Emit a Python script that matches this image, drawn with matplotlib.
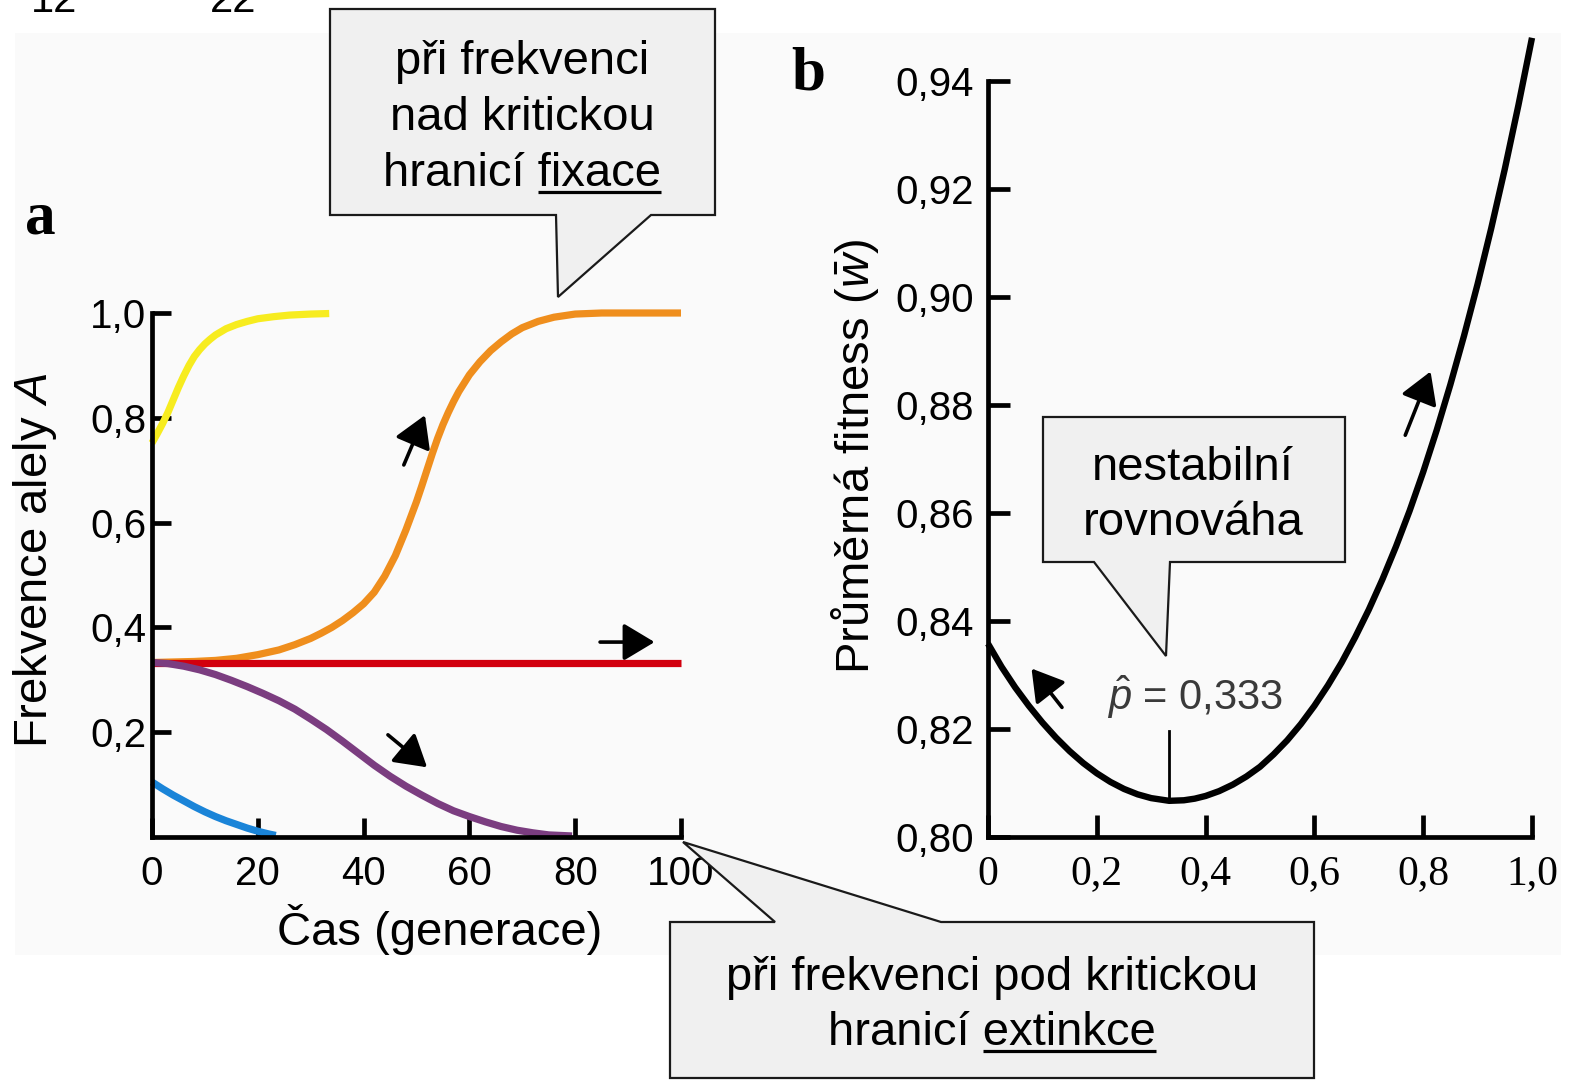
import matplotlib
matplotlib.use("Agg")
import matplotlib.pyplot as plt
from matplotlib.patches import Polygon, Rectangle

# ---------------- data ----------------
# panel a: allele frequency trajectories
yellow_t = [0, 1, 2, 3, 4, 5, 6, 7, 8, 9, 10, 11, 12, 14, 16, 18, 20, 23, 26, 30, 33.5]
yellow_p = [0.752, 0.770, 0.789, 0.810, 0.834, 0.858, 0.880, 0.900, 0.917, 0.930, 0.941, 0.950, 0.958,
            0.970, 0.978, 0.984, 0.989, 0.993, 0.996, 0.998, 0.999]

orange_t = [0, 4, 8, 12, 16, 20, 24, 27, 30, 32, 34, 36, 38, 40, 42, 44, 46, 48, 50, 51, 52, 53, 54, 55,
            56, 57, 58, 60, 62, 64, 66, 68, 70, 73, 76, 80, 85, 100]
orange_p = [0.333, 0.334, 0.335, 0.337, 0.341, 0.348, 0.357, 0.367, 0.379, 0.389, 0.400, 0.413, 0.428,
            0.445, 0.467, 0.498, 0.537, 0.586, 0.640, 0.670, 0.701, 0.732, 0.761, 0.787, 0.810, 0.831,
            0.850, 0.882, 0.907, 0.928, 0.945, 0.960, 0.972, 0.984, 0.992, 0.998, 1.0, 1.0]

red_t = [0, 100]
red_p = [0.333, 0.333]

purple_t = [0, 3, 6, 9, 12, 15, 18, 21, 24, 27, 30, 33, 36, 39, 42, 45, 48, 51, 54, 57, 60, 63, 66,
            69, 72, 75, 79.4]
purple_p = [0.333, 0.331, 0.326, 0.319, 0.310, 0.299, 0.287, 0.274, 0.260, 0.244, 0.225, 0.205, 0.183,
            0.160, 0.137, 0.116, 0.097, 0.080, 0.064, 0.050, 0.039, 0.029, 0.020, 0.013, 0.008, 0.004, 0.002]

blue_t = [0, 2, 4, 6, 8, 10, 12, 14, 16, 18, 20, 22, 23.4]
blue_p = [0.105, 0.092, 0.080, 0.069, 0.058, 0.048, 0.039, 0.031, 0.024, 0.017, 0.011, 0.006, 0.003]

a_xticks = [0, 20, 40, 60, 80, 100]
a_xlabels = ["0", "20", "40", "60", "80", "100"]
a_yticks = [0.2, 0.4, 0.6, 0.8, 1.0]
a_ylabels = ["0,2", "0,4", "0,6", "0,8", "1,0"]

# panel a arrows (tail -> head), data coords
a_arrows = [((47.6, 0.71), (51.6, 0.805)),
            ((84.7, 0.372), (95.0, 0.372)),
            ((44.6, 0.195), (52.0, 0.133))]

# panel b: mean fitness
b_p = [0, 0.025, 0.05, 0.075, 0.1, 0.125, 0.15, 0.175, 0.2, 0.225, 0.25, 0.275, 0.3, 0.333, 0.36, 0.38,
       0.4, 0.425, 0.45, 0.475, 0.5, 0.525, 0.55, 0.575, 0.6, 0.625, 0.65, 0.675, 0.7, 0.725, 0.75, 0.775,
       0.8, 0.825, 0.85, 0.875, 0.9, 0.925, 0.95, 0.975, 1.0]
b_w = [0.8358, 0.8315, 0.8277, 0.8243, 0.8212, 0.8184, 0.8159, 0.8137, 0.8118, 0.8102, 0.8089, 0.8079,
       0.8072, 0.8067, 0.8068, 0.8071, 0.8076, 0.8085, 0.8097, 0.8112, 0.8130, 0.8153, 0.8179, 0.8209,
       0.8243, 0.8281, 0.8323, 0.8370, 0.8421, 0.8477, 0.8538, 0.8604, 0.8676, 0.8754, 0.8838, 0.8928,
       0.9024, 0.9127, 0.9237, 0.9355, 0.9480]
p_hat = 0.333
p_hat_line = [0.8067, 0.8196]

b_xticks = [0, 0.2, 0.4, 0.6, 0.8, 1.0]
b_xlabels = ["0", "0,2", "0,4", "0,6", "0,8", "1,0"]
b_yticks = [0.80, 0.82, 0.84, 0.86, 0.88, 0.90, 0.92, 0.94]
b_ylabels = ["0,80", "0,82", "0,84", "0,86", "0,88", "0,90", "0,92", "0,94"]

b_arrows = [((0.136, 0.824), (0.080, 0.8312)),
            ((0.767, 0.8744), (0.8135, 0.8862))]

# ---------------- figure ----------------
W, H = 1571, 1082
fig = plt.figure(figsize=(W / 100, H / 100), dpi=100)
fig.patch.set_facecolor("white")

SANS = ["Liberation Sans", "DejaVu Sans"]
SERIF = ["Liberation Serif", "DejaVu Serif"]
NARROW = ["Liberation Sans Narrow", "Liberation Sans", "DejaVu Sans"]
plt.rcParams["mathtext.fontset"] = "custom"
plt.rcParams["mathtext.it"] = "Liberation Sans:italic"
plt.rcParams["mathtext.rm"] = "Liberation Sans"
plt.rcParams["mathtext.sf"] = "Liberation Sans"

# background layer (pixel coordinates)
ax_bg = fig.add_axes([0, 0, 1, 1], zorder=-5)
ax_bg.set_xlim(0, W)
ax_bg.set_ylim(H, 0)
ax_bg.axis("off")
ax_bg.add_patch(Rectangle((15, 33), 1546, 922, fc="#fafafa", ec="none"))

def px2fig(x0, y0, x1, y1):
    return [x0 / W, 1 - y1 / H, (x1 - x0) / W, (y1 - y0) / H]

LW_SP = 3.4
ARROW = dict(arrowstyle="-|>,head_length=0.6,head_width=0.36", color="black",
             lw=2.6, mutation_scale=32, shrinkA=0, shrinkB=0)

# ---------------- panel a ----------------
axa = fig.add_axes(px2fig(152, 313, 681, 837))
axa.patch.set_visible(False)
axa.set_xlim(0, 100)
axa.set_ylim(0, 1.0)
for s in ["top", "right"]:
    axa.spines[s].set_visible(False)
for s in ["left", "bottom"]:
    axa.spines[s].set_linewidth(LW_SP)
    axa.spines[s].set_capstyle("projecting")

line_kw = dict(lw=5.2, solid_capstyle="butt", solid_joinstyle="round", clip_on=False)
axa.plot(yellow_t, yellow_p, color="#f7ec1f", **line_kw)
axa.plot(orange_t, orange_p, color="#ef8e1d", **line_kw)
axa.plot(red_t, red_p, color="#d2000e", **line_kw)
axa.plot(purple_t, purple_p, color="#7b3d80", **line_kw)
axa.plot(blue_t, blue_p, color="#1a84d8", **line_kw)

for (t0, p0), (t1, p1) in a_arrows:
    axa.annotate("", xy=(t1, p1), xytext=(t0, p0), arrowprops=ARROW)

axa.set_xticks(a_xticks)
axa.set_xticklabels(a_xlabels, family=SANS, fontsize=29)
axa.set_yticks(a_yticks)
axa.set_yticklabels(a_ylabels, family=SANS, fontsize=29)
axa.tick_params(axis="both", direction="in", length=14, width=LW_SP)
axa.tick_params(axis="y", pad=4)
axa.tick_params(axis="x", pad=13)

# ---------------- panel b ----------------
axb = fig.add_axes(px2fig(988, 81, 1532, 837))
axb.patch.set_visible(False)
axb.set_xlim(0, 1.0)
axb.set_ylim(0.80, 0.94)
for s in ["top", "right"]:
    axb.spines[s].set_visible(False)
for s in ["left", "bottom"]:
    axb.spines[s].set_linewidth(LW_SP)
    axb.spines[s].set_capstyle("projecting")

axb.plot(b_p, b_w, color="black", lw=4.6, clip_on=False, solid_capstyle="butt", solid_joinstyle="round")
axb.plot([p_hat, p_hat], p_hat_line, color="black", lw=2.0)
axb.text(0.3805, 0.8259, r"$\hat{p}$ = 0,333", family=SANS, fontsize=30, color="#3a3a3a",
         ha="center", va="center")
for (x0, y0), (x1, y1) in b_arrows:
    axb.annotate("", xy=(x1, y1), xytext=(x0, y0), arrowprops=ARROW)

axb.set_xticks(b_xticks)
axb.set_xticklabels(b_xlabels, family=SERIF, fontsize=30)
axb.set_yticks(b_yticks)
axb.set_yticklabels(b_ylabels, family=SANS, fontsize=29)
axb.tick_params(axis="both", direction="in", length=16, width=LW_SP)
axb.tick_params(axis="y", pad=10)
axb.tick_params(axis="x", pad=13)

# ---------------- overlay (labels and callouts), pixel coordinates ----------------
ax_ov = fig.add_axes([0, 0, 1, 1], zorder=10)
ax_ov.set_xlim(0, W)
ax_ov.set_ylim(H, 0)
ax_ov.axis("off")
ax_ov.patch.set_visible(False)

# axis titles
ax_ov.text(440, 945, "Čas (generace)", family=SANS, fontsize=34, ha="center", va="baseline")
ax_ov.text(35, 560, "Frekvence alely $A$", family=SANS, fontsize=34, ha="center", va="center",
           rotation=90)
ax_ov.text(855, 457, r"Průměrná fitness ($\bar{w}$)", family=SANS, fontsize=34, ha="center",
           va="center", rotation=90)
ax_ov.text(1283, 948, "$p$", family=SERIF, fontsize=32, ha="center", va="baseline", zorder=0)

ax_ov.text(40, 218, "a", family=SERIF, fontweight="bold", fontsize=44, ha="center", va="center")
ax_ov.text(808, 75, "b", family=SERIF, fontweight="bold", fontsize=44, ha="center", va="center")
ax_ov.text(54, 12, "12", family=SANS, fontsize=30, ha="center", va="baseline")
ax_ov.text(233, 12, "22", family=SANS, fontsize=30, ha="center", va="baseline")

FILL = "#f0f0f0"
EDGE = "#1a1a1a"

def callout(box, tri_base, tip):
    x0, y0, x1, y1 = box
    bx0, bx1, by = tri_base
    if by >= y1:  # pointer at bottom
        pts = [(x0, y0), (x1, y0), (x1, y1), (bx1, y1), tip, (bx0, y1), (x0, y1)]
    else:  # pointer at top
        pts = [(x0, y0), (bx0, y0), tip, (bx1, y0), (x1, y0), (x1, y1), (x0, y1)]
    ax_ov.add_patch(Polygon(pts, closed=True, fc=FILL, ec=EDGE, lw=1.6, joinstyle="miter", zorder=2))

callout((330, 9, 715, 215), (556, 651, 215), (558, 297))
callout((1043, 417, 1345, 562), (1094, 1170, 562), (1166, 656))
callout((670, 922, 1314, 1078), (775, 941, 922), (683, 842))

renderer = fig.canvas.get_renderer()

def underlined_line(cx, baseline, prefix, word, fam, size):
    full = ax_ov.text(cx, baseline, prefix + word, family=fam, fontsize=size, ha="center",
                      va="baseline", zorder=3)
    bb = full.get_window_extent(renderer)
    tmp = ax_ov.text(0, 0, word, family=fam, fontsize=size)
    wb = tmp.get_window_extent(renderer)
    tmp.remove()
    x_right = bb.x1
    x_left = bb.x1 - wb.width
    ax_ov.plot([x_left, x_right], [baseline + 6, baseline + 6], color="black", lw=2.3,
               solid_capstyle="butt", zorder=3)

ax_ov.text(522, 74, "při frekvenci", family=SANS, fontsize=34, ha="center", va="baseline", zorder=3)
ax_ov.text(522, 130, "nad kritickou", family=SANS, fontsize=34, ha="center", va="baseline", zorder=3)
underlined_line(522, 186, "hranicí ", "fixace", SANS, 34)

ax_ov.text(1193, 480, "nestabilní", family=SANS, fontsize=34, ha="center", va="baseline", zorder=3)
ax_ov.text(1193, 535, "rovnováha", family=SANS, fontsize=34, ha="center", va="baseline", zorder=3)

ax_ov.text(992, 990, "při frekvenci pod kritickou", family=NARROW, fontsize=34, ha="center",
           va="baseline", zorder=3)
underlined_line(992, 1045, "hranicí ", "extinkce", NARROW, 34)

fig.savefig("out.png", dpi=100, facecolor="white")
